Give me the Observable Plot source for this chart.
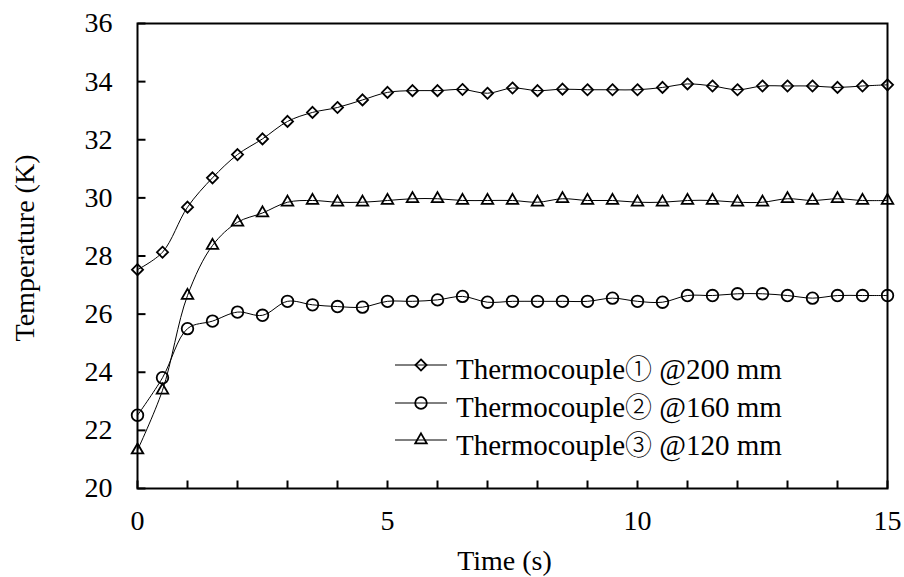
<!DOCTYPE html>
<html><head><meta charset="utf-8">
<script src="https://cdn.jsdelivr.net/npm/d3@7"></script>
<script src="https://cdn.jsdelivr.net/npm/@observablehq/plot@0.6"></script>
<style>
body{margin:0;background:#fff;}
#wrap{position:relative;width:904px;height:577px;font-family:"Liberation Serif","Times New Roman",serif;color:#000;}
#chart svg, #chart svg text{font-family:"Liberation Serif","Times New Roman",serif !important;}
#legend{position:absolute;left:395px;top:346px;}
.row{display:flex;align-items:center;height:37.8px;font-size:29px;white-space:nowrap;}
.row span.lbl{position:relative;top:3px;margin-left:5px;}
.row span.circ{font-family:"Noto Sans CJK JP","DejaVu Sans",serif;font-weight:300;font-size:27px;}
</style></head>
<body><div id="wrap"><div id="chart"></div><div id="legend"></div></div>
<script>
const times = [0,0.5,1,1.5,2,2.5,3,3.5,4,4.5,5,5.5,6,6.5,7,7.5,8,8.5,9,9.5,10,10.5,11,11.5,12,12.5,13,13.5,14,14.5,15];
const seriesNames = ["Thermocouple① @200 mm","Thermocouple② @160 mm","Thermocouple③ @120 mm"];
const tc1 = [27.53,28.13,29.68,30.69,31.49,32.03,32.63,32.94,33.11,33.37,33.63,33.69,33.69,33.73,33.60,33.78,33.69,33.74,33.72,33.72,33.72,33.80,33.92,33.85,33.72,33.85,33.85,33.85,33.80,33.85,33.89];
const tc2 = [22.52,23.81,25.50,25.76,26.07,25.96,26.44,26.32,26.26,26.24,26.44,26.44,26.49,26.61,26.41,26.44,26.44,26.44,26.44,26.55,26.44,26.41,26.64,26.64,26.70,26.70,26.64,26.55,26.64,26.64,26.64];
const tc3 = [21.32,23.38,26.64,28.36,29.16,29.48,29.85,29.91,29.85,29.85,29.91,29.97,29.97,29.91,29.91,29.91,29.85,29.97,29.91,29.91,29.85,29.85,29.91,29.91,29.85,29.85,29.97,29.91,29.97,29.91,29.91];
const xTickLabels = [0,5,10,15];
const xMinorTicks = [0,1,2,3,4,5,6,7,8,9,10,11,12,13,14,15];
const yTicks = [20,22,24,26,28,30,32,34,36];
const xTitle = "Time (s)";
const yTitle = "Temperature (K)";

const FONT = '"Liberation Serif","Times New Roman",serif';
const symbols = ["diamond2","circle","triangle2"];
const symRadius = [5,5.8,5.5];
const d3Symbols = [d3.symbolDiamond2, d3.symbolCircle, d3.symbolTriangle2];

const seriesValues = [tc1, tc2, tc3];
const rows = seriesValues.flatMap((vals, i) => vals.map((v, j) => ({t: times[j], v, series: seriesNames[i]})));

const tickUp = {draw(ctx){ ctx.moveTo(0,0); ctx.lineTo(0,-8); }};
const tickRight = {draw(ctx){ ctx.moveTo(0,0); ctx.lineTo(8,0); }};

const chart = Plot.plot({
  width: 904, height: 577,
  marginLeft: 137, marginRight: 17, marginTop: 23, marginBottom: 89,
  style: {fontFamily: FONT, fontSize: "28px", color: "black", background: "white", overflow: "visible"},
  x: {domain: [0, 15]},
  y: {domain: [20, 36]},
  marks: [
    Plot.axisX({ticks: xTickLabels, tickSize: 0, tickPadding: 22, tickFormat: d => String(d), label: null}),
    Plot.axisY({ticks: yTicks, tickSize: 0, tickPadding: 25, tickFormat: d => String(d), label: null}),
    Plot.dot(xMinorTicks, {x: d => d, frameAnchor: "bottom", symbol: tickUp, fill: "none", stroke: "black", strokeWidth: 2}),
    Plot.dot(yTicks, {y: d => d, frameAnchor: "left", symbol: tickRight, fill: "none", stroke: "black", strokeWidth: 2}),
    Plot.line(rows, {x: "t", y: "v", z: "series", curve: "catmull-rom", stroke: "black", strokeWidth: 1}),
    ...seriesNames.map((name, i) => Plot.dot(rows.filter(d => d.series === name), {x: "t", y: "v", symbol: symbols[i], r: symRadius[i], fill: "none", stroke: "black", strokeWidth: 1.8})),
    Plot.frame({stroke: "black", strokeWidth: 2}),
    Plot.text([yTitle], {text: d => d, frameAnchor: "left", rotate: -90, dx: -104, dy: -8, lineAnchor: "bottom", textAnchor: "middle", fontSize: 28}),
    Plot.text([xTitle], {text: d => d, frameAnchor: "bottom", dy: 81, dx: -8, lineAnchor: "bottom", textAnchor: "middle", fontSize: 28})
  ]
});
document.getElementById("chart").appendChild(chart);

const legend = d3.select("#legend");
seriesNames.forEach((name, i) => {
  const row = legend.append("div").attr("class", "row");
  const svg = row.append("svg").attr("width", 56).attr("height", 30);
  svg.append("line").attr("x1", 0).attr("x2", 52).attr("y1", 15).attr("y2", 15).attr("stroke", "black").attr("stroke-width", 1);
  svg.append("path").attr("transform", "translate(26,15)")
    .attr("d", d3.symbol(d3Symbols[i], Math.PI * symRadius[i] * symRadius[i])())
    .attr("fill", "none").attr("stroke", "black").attr("stroke-width", 1.8);
  const lbl = row.append("span").attr("class", "lbl");
  const m = name.match(/^(.*?)([①②③])(.*)$/);
  if (m) {
    lbl.append("span").text(m[1]);
    lbl.append("span").attr("class", "circ").text(m[2]);
    lbl.append("span").text(m[3]);
  } else {
    lbl.text(name);
  }
});
</script>
</body></html>
